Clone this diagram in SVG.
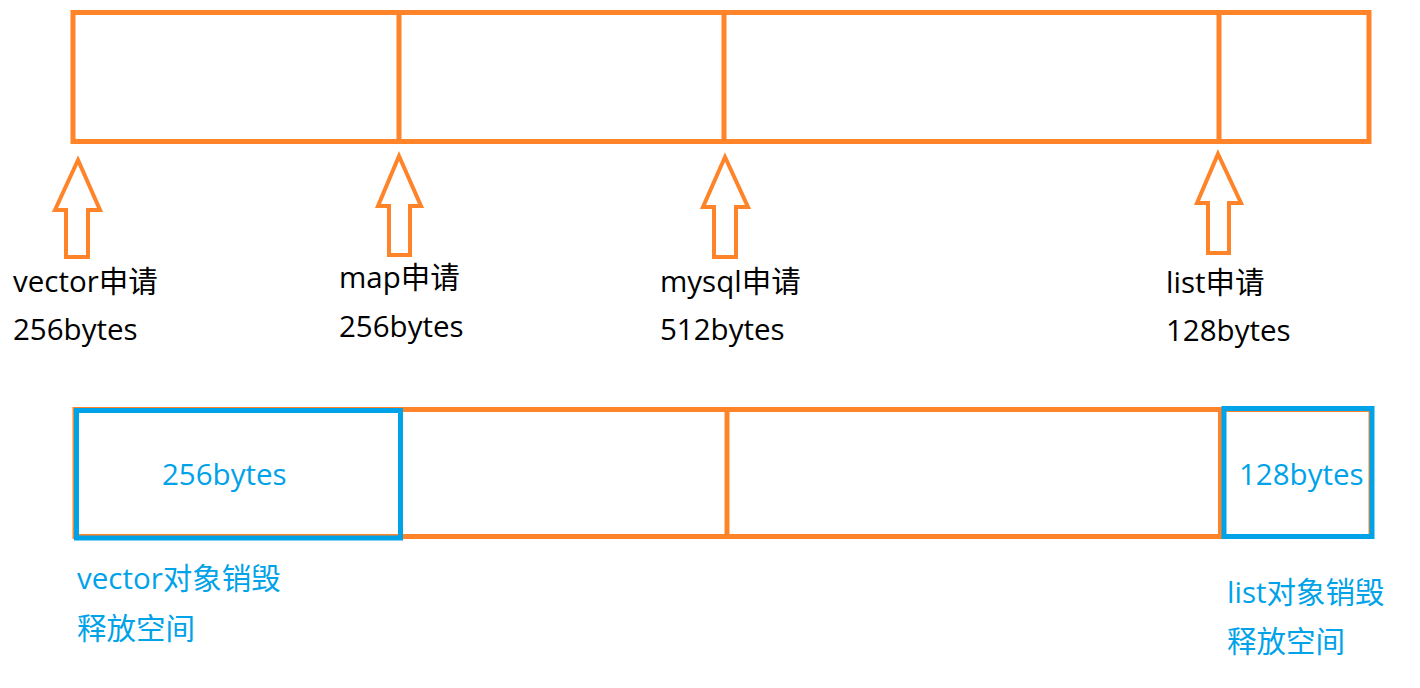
<svg xmlns="http://www.w3.org/2000/svg" width="1420" height="688" viewBox="0 0 1420 688">
<style>
.o{fill:none;stroke:#FF8429;stroke-width:5}
.b{fill:none;stroke:#00A2E8;stroke-width:5}
.ar{fill:#fff;stroke:#FF8429;stroke-width:4;stroke-linejoin:miter}
.t{font-family:"Open Sans","Noto Sans CJK SC",sans-serif;font-size:29.5px;fill:#000}
.tb{font-family:"Open Sans","Noto Sans CJK SC",sans-serif;font-size:29.5px;fill:#00A2E8}
</style>
<rect width="1420" height="688" fill="#fff"/>
<g id="top-memory">
<rect class="o" x="73" y="12.5" width="1296" height="129"/>
<line class="o" x1="399" y1="12.5" x2="399" y2="141.5"/>
<line class="o" x1="724" y1="12.5" x2="724" y2="141.5"/>
<line class="o" x1="1219" y1="12.5" x2="1219" y2="141.5"/>
</g>
<g id="connectors">
<polygon class="ar" points="78,160 100,210 88,210 88,257 66,257 66,210 55,210"/>
<polygon class="ar" points="399,156 421,206 410,206 410,255 389,255 389,206 378,206"/>
<polygon class="ar" points="725,157 748,207 736,207 736,257 714,257 714,207 703,207"/>
<polygon class="ar" points="1218,154 1241,203 1229,203 1229,253 1208,253 1208,203 1197,203"/>
</g>
<g id="label-vector">
<text class="t" x="13" y="292">vector申请</text>
<text class="t" x="13" y="340">256bytes</text>
</g>
<g id="label-map">
<text class="t" x="339" y="288">map申请</text>
<text class="t" x="339" y="337">256bytes</text>
</g>
<g id="label-mysql">
<text class="t" x="660" y="292">mysql申请</text>
<text class="t" x="660" y="340">512bytes</text>
</g>
<g id="label-list">
<text class="t" x="1166" y="293">list申请</text>
<text class="t" x="1166" y="341">128bytes</text>
</g>
<g id="bottom-memory">
<rect class="o" x="75" y="409.5" width="1296" height="127"/>
<line class="o" x1="727" y1="409.5" x2="727" y2="536.5"/>
<line class="o" x1="1220.5" y1="409.5" x2="1220.5" y2="536.5"/>
</g>
<g id="freed-vector">
<rect class="b" x="76.5" y="410.5" width="324" height="127.5"/>
<text class="tb" x="162" y="485">256bytes</text>
<text class="tb" x="77" y="589">vector对象销毁</text>
<text class="tb" x="77" y="639">释放空间</text>
</g>
<g id="freed-list">
<rect class="b" x="1224" y="408.5" width="148" height="128"/>
<text class="tb" x="1239" y="485">128bytes</text>
<text class="tb" x="1227" y="603">list对象销毁</text>
<text class="tb" x="1227" y="652">释放空间</text>
</g>
</svg>
